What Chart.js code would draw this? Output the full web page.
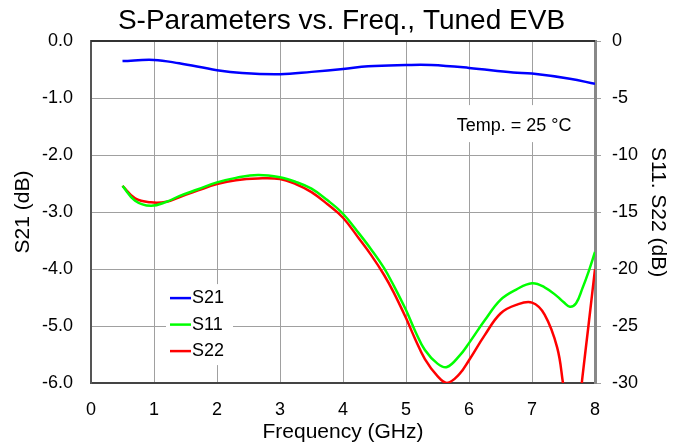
<!DOCTYPE html>
<html>
<head>
<meta charset="utf-8">
<script src="https://cdn.jsdelivr.net/npm/chart.js@4.4.1/dist/chart.umd.min.js"></script>
<style>
  html, body { margin: 0; padding: 0; background: #fff; }
  #wrap { width: 683px; height: 445px; }
</style>
</head>
<body>
<div id="wrap"><canvas id="spChart" width="683" height="445"></canvas></div>
<script>
// ===== data =====
const freqS21 = [0.5, 1.0, 1.4, 2.0, 2.4, 3.0, 3.5, 4.0, 4.4, 5.0, 5.4, 6.0, 6.7, 7.0, 7.6, 8.0];
const s21     = [-0.35, -0.33, -0.39, -0.51, -0.56, -0.58, -0.54, -0.49, -0.44, -0.42, -0.42, -0.47, -0.55, -0.57, -0.66, -0.75];

const freqRefl = [0.5, 0.7, 0.95, 1.2, 1.4, 1.7, 2.0, 2.3, 2.65, 3.0, 3.25, 3.5, 3.75, 4.0, 4.25, 4.45,
                  4.65, 4.8, 5.0, 5.15, 5.3, 5.5, 5.65, 5.85, 6.0, 6.25, 6.5, 6.75, 7.0, 7.2, 7.4, 7.5,
                  7.6, 7.7, 7.8, 7.9, 8.0];
const s11 = [-12.7, -14.0, -14.45, -14.1, -13.6, -13.0, -12.4, -12.0, -11.75, -11.95, -12.35, -12.95, -13.95, -15.15, -16.85, -18.3,
             -19.9, -21.4, -23.6, -25.5, -27.1, -28.3, -28.6, -27.6, -26.5, -24.5, -22.7, -21.8, -21.25, -21.6, -22.4, -22.9,
             -23.3, -23.0, -21.7, -20.2, -18.5];
const s22 = [-12.7, -13.8, -14.15, -14.1, -13.7, -13.1, -12.55, -12.2, -12.05, -12.1, -12.55, -13.25, -14.3, -15.5, -17.3, -18.8,
             -20.5, -22.0, -24.3, -26.2, -27.9, -29.4, -30.0, -29.2, -28.0, -25.8, -23.9, -23.15, -22.95, -24.0, -26.9, -30.3,
             -33.5, -34.5, -29.5, -24.8, -20.0];

const xTicks = [0, 8, 1];        // min, max, step (GHz)
const leftTicks = [-6, 0, 1];    // S21 (dB)
const rightTicks = [-30, 0, 5];  // S11, S22 (dB)

const FONT = "'Liberation Sans', Arial, sans-serif";

function pts(xs, ys) {
    return xs.map((x, i) => ({ x: x, y: ys[i] }));
}

// legend + temperature note, drawn over the grid (white boxes hide grid lines)
const notesPlugin = {
    id: 'notesPlugin',
    beforeDatasetsDraw(chart) {
        const { ctx, chartArea: a } = chart;
        ctx.save();
        ctx.fillStyle = '#fff';
        // legend box
        ctx.fillRect(a.left + 75, a.top + 243, 67, 81);
        // temp box
        ctx.fillRect(a.left + 349, a.top + 64, 145, 37);

        ctx.font = '18px ' + FONT;
        ctx.textBaseline = 'middle';
        ctx.fillStyle = '#000';
        ctx.textAlign = 'center';
        ctx.fillText('Temp. = 25 °C', a.left + 423, a.top + 85);

        ctx.textAlign = 'left';
        chart.data.datasets.forEach((ds, i) => {
            const y = a.top + 257 + i * 26.5;
            ctx.strokeStyle = ds.borderColor;
            ctx.lineWidth = 2.5;
            ctx.beginPath();
            ctx.moveTo(a.left + 79, y);
            ctx.lineTo(a.left + 100, y);
            ctx.stroke();
            ctx.fillText(ds.label, a.left + 101, y);
        });
        ctx.restore();
    },
    afterDraw(chart) {
        // top frame line
        const { ctx, chartArea: a } = chart;
        ctx.save();
        ctx.strokeStyle = '#333';
        ctx.lineWidth = 2;
        ctx.beginPath();
        ctx.moveTo(a.left, a.top);
        ctx.lineTo(a.right, a.top);
        ctx.stroke();
        ctx.restore();
    }
};

new Chart(document.getElementById('spChart'), {
    type: 'line',
    data: {
        datasets: [
            { label: 'S21', data: pts(freqS21, s21), yAxisID: 'y', borderColor: '#0000ff' },
            { label: 'S11', data: pts(freqRefl, s11), yAxisID: 'y1', borderColor: '#00ff00' },
            { label: 'S22', data: pts(freqRefl, s22), yAxisID: 'y1', borderColor: '#ff0000' }
        ]
    },
    options: {
        responsive: false,
        animation: false,
        devicePixelRatio: 1,
        layout: { padding: 0 },
        elements: {
            line: { borderWidth: 2.5, tension: 0.4, fill: false },
            point: { radius: 0 }
        },
        plugins: {
            legend: { display: false },
            tooltip: { enabled: false },
            title: {
                display: true,
                text: 'S-Parameters vs. Freq., Tuned EVB',
                color: '#000',
                font: { family: FONT, size: 28, weight: 'normal' },
                padding: { top: 4, bottom: 3.5 }
            }
        },
        scales: {
            x: {
                type: 'linear',
                min: xTicks[0], max: xTicks[1],
                afterFit(s) { s.height = 62; },
                ticks: { stepSize: xTicks[2], color: '#000', padding: 16, font: { family: FONT, size: 18 } },
                grid: { color: '#a0a0a0', drawTicks: false },
                border: { color: '#444', width: 2 },
                title: { display: true, text: 'Frequency (GHz)', color: '#000', padding: 0, font: { family: FONT, size: 21 } }
            },
            y: {
                position: 'left',
                min: leftTicks[0], max: leftTicks[1],
                afterFit(s) { s.width = 91; },
                ticks: {
                    stepSize: leftTicks[2], color: '#000', padding: 18, font: { family: FONT, size: 18 },
                    callback: v => v.toFixed(1)
                },
                grid: { color: '#a0a0a0', drawTicks: false },
                border: { color: '#555', width: 2 },
                title: { display: true, text: 'S21 (dB)', color: '#000', padding: { top: 11 }, font: { family: FONT, size: 21 } }
            },
            y1: {
                position: 'right',
                min: rightTicks[0], max: rightTicks[1],
                afterFit(s) { s.width = 88; },
                ticks: { stepSize: rightTicks[2], color: '#000', padding: 11, font: { family: FONT, size: 18 } },
                grid: { color: '#a0a0a0', drawOnChartArea: false, tickLength: 6 },
                border: { color: '#888', width: 3 },
                title: { display: true, text: 'S11. S22 (dB)', color: '#000', padding: { top: 13 }, font: { family: FONT, size: 21 } }
            }
        }
    },
    plugins: [notesPlugin]
});
</script>
</body>
</html>
